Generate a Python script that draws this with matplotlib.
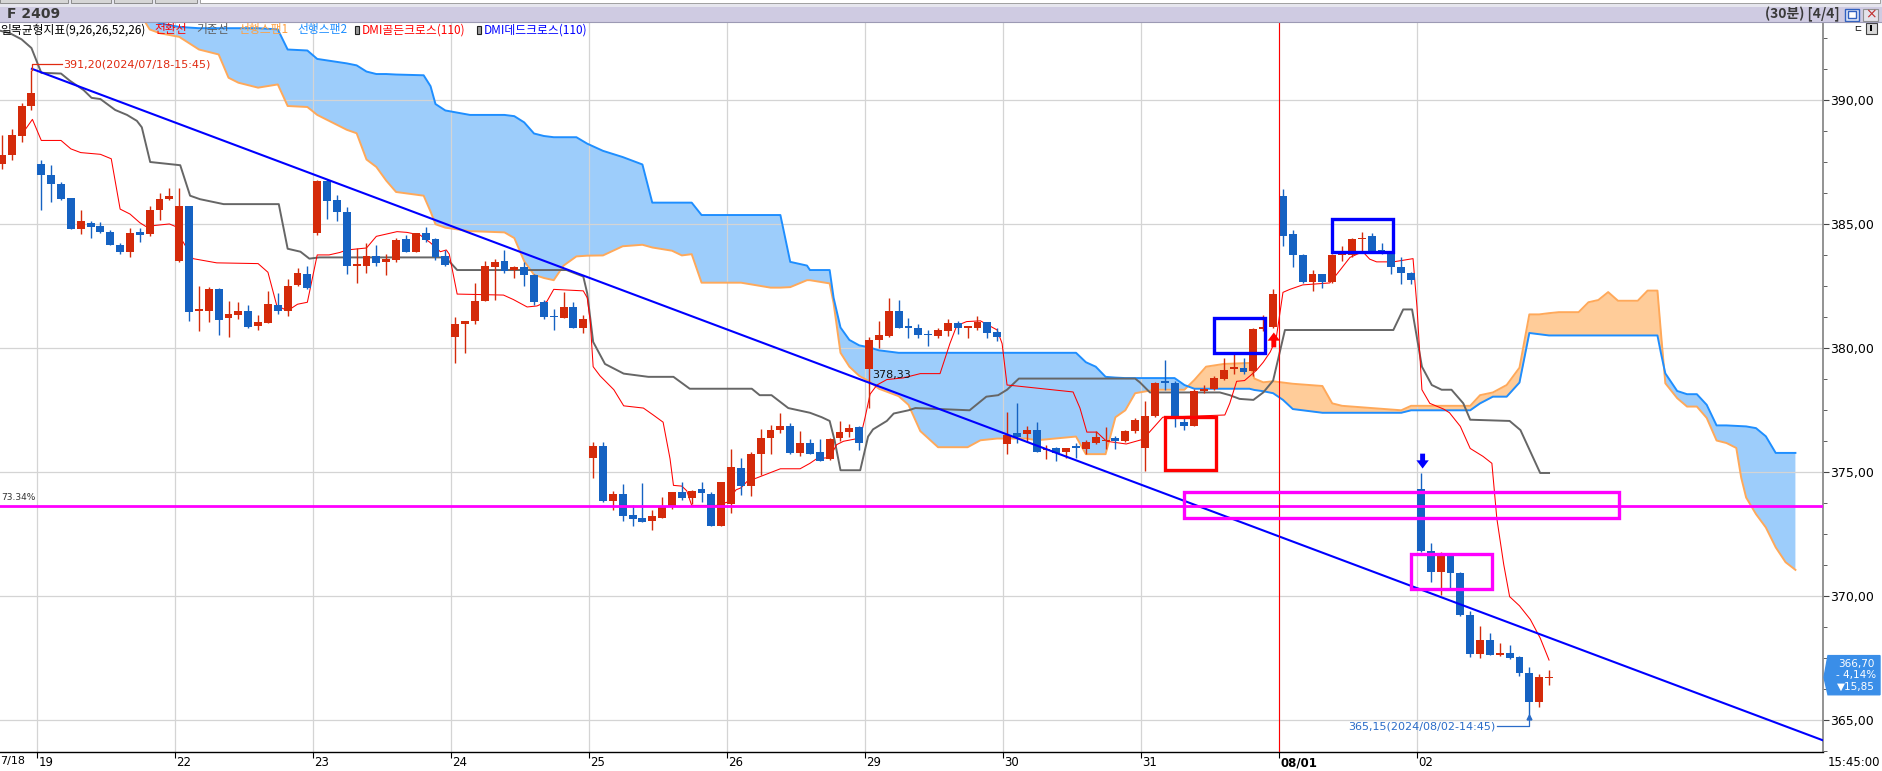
import numpy as np
import matplotlib.pyplot as plt
import matplotlib.patches as mpatches
import matplotlib.transforms as mtrans

W, H = 1882, 771

# ---- 30분봉 데이터 (7/18 마지막 4개 ~ 8/02) ----
opens = [387.4, 387.8, 388.55, 389.78,
         387.4, 386.98, 386.6, 386.03, 384.8, 385.05, 384.9, 384.66, 384.17, 383.88, 384.66, 384.58, 385.55, 385.99,
         383.5, 385.73, 381.5, 381.47, 382.36, 381.2, 381.32, 381.5, 380.9, 381.02, 381.73, 381.47, 382.54, 383.0,
         384.62, 386.73, 385.96, 385.5, 383.3, 383.32, 383.7, 383.47, 383.54, 384.38, 383.88, 384.62, 384.38, 383.69,
         380.45, 380.97, 381.1, 381.9, 383.25, 383.5, 383.14, 383.27, 382.95, 381.86, 381.3, 381.2, 381.65, 380.8,
         375.57, 376.05, 373.82, 374.12, 373.25, 373.15, 373.0, 373.15, 373.56, 374.2, 373.95, 374.32, 374.12, 372.82,
         373.7, 375.16, 374.42, 375.71, 376.35, 376.68, 376.86, 375.75, 376.16, 375.79, 375.53, 376.36, 376.6, 376.79,
         379.15, 380.31, 380.46, 381.47, 380.85, 380.82, 380.54, 380.46, 380.69, 381.0, 380.82, 380.8, 381.06, 380.65,
         376.12, 376.57, 376.53, 376.68, 375.86, 375.94, 375.79, 375.99, 375.9, 376.16, 376.25, 376.36, 376.25, 376.64,
         375.94, 377.24, 378.65, 378.57, 377.01, 376.86, 378.27, 378.35, 378.76, 379.13, 379.2, 379.05, 380.76, 380.83,
         386.14, 384.58, 383.73, 382.65, 382.99, 382.65, 383.73, 383.73, 384.4, 384.5, 383.92, 383.88, 383.25, 383.02,
         374.3, 371.8, 370.95, 371.65, 370.9, 369.23, 367.63, 368.22, 367.6, 367.7, 367.52, 366.87, 365.7, 366.68]
highs = [388.6, 388.85, 389.9, 391.2,
         387.6, 387.37, 386.7, 386.03, 385.55, 385.1, 385.08, 384.77, 384.25, 384.84, 384.84, 385.73, 386.25, 386.44,
         386.44, 385.73, 382.5, 382.44, 382.4, 381.9, 381.87, 381.74, 381.34, 382.3, 382.2, 382.78, 383.22, 383.32,
         386.77, 386.81, 386.18, 385.68, 384.03, 384.22, 384.17, 383.77, 384.43, 384.55, 384.62, 384.88, 384.43, 383.95,
         381.24, 381.09, 382.6, 383.5, 383.6, 383.95, 383.32, 383.47, 382.99, 381.92, 381.57, 382.25, 381.87, 381.32,
         376.2, 376.2, 374.23, 374.5, 373.64, 374.55, 373.45, 373.97, 374.2, 374.6, 374.27, 374.6, 374.2, 374.6,
         375.9, 375.57, 375.8, 376.73, 376.9, 377.38, 376.97, 376.64, 376.34, 376.34, 376.38, 377.05, 376.94, 376.86,
         380.44, 381.1, 382.0, 381.93, 381.19, 380.97, 380.72, 380.82, 381.15, 381.1, 380.9, 381.28, 381.06, 380.82,
         377.42, 377.79, 376.86, 377.01, 376.07, 376.01, 375.97, 376.16, 376.27, 376.64, 376.79, 376.45, 376.68, 377.16,
         377.85, 378.61, 379.52, 378.65, 377.2, 378.35, 378.5, 378.87, 379.61, 379.76, 379.61, 380.82, 381.32, 382.36,
         386.4, 384.77, 383.77, 383.14, 382.99, 383.77, 384.1, 384.43, 384.66, 384.62, 384.25, 383.92, 383.65, 383.06,
         374.95, 372.13, 371.76, 371.72, 370.95, 369.38, 368.78, 368.48, 368.07, 368.0, 367.56, 367.13, 366.82, 367.0]
lows = [387.2, 387.6, 388.3, 389.6,
        385.55, 385.9, 385.97, 384.8, 384.58, 384.43, 384.62, 384.16, 383.8, 383.65, 384.29, 384.53, 385.14, 385.97,
        383.47, 381.1, 380.7, 381.06, 380.5, 380.43, 381.17, 380.79, 380.72, 381.02, 381.36, 381.3, 382.49, 382.36,
        384.55, 385.2, 385.13, 383.0, 382.6, 383.04, 383.32, 382.92, 383.47, 383.88, 383.88, 384.29, 383.54, 383.32,
        379.39, 379.8, 380.97, 381.9, 381.94, 383.02, 382.8, 382.51, 381.73, 381.17, 380.72, 381.2, 380.8, 380.6,
        374.75, 373.77, 373.45, 373.0, 372.8, 372.97, 372.63, 373.15, 373.5, 373.86, 373.68, 373.77, 372.82, 372.82,
        373.34, 374.05, 374.04, 374.88, 375.71, 376.57, 375.71, 375.62, 375.71, 375.43, 375.49, 376.23, 376.4, 375.86,
        377.57, 380.0, 380.44, 380.82, 380.39, 380.39, 380.07, 380.39, 380.46, 380.54, 380.39, 380.72, 380.39, 380.26,
        375.7, 376.16, 376.2, 375.79, 375.53, 375.45, 375.57, 375.57, 375.71, 376.12, 375.9, 375.9, 376.2, 376.57,
        375.01, 377.2, 378.31, 376.79, 376.68, 376.83, 378.16, 378.31, 378.72, 378.96, 378.96, 378.87, 380.69, 380.8,
        384.1, 383.25, 382.62, 382.28, 382.43, 382.62, 383.5, 383.65, 383.84, 383.84, 383.8, 382.99, 382.58, 382.58,
        371.77, 370.55, 370.04, 370.3, 369.16, 367.52, 367.48, 367.6, 367.56, 367.45, 366.76, 365.15, 365.52, 366.4]
closes = [387.8, 388.57, 389.78, 390.28,
          386.98, 386.6, 386.0, 384.8, 385.1, 384.88, 384.66, 384.16, 383.88, 384.62, 384.55, 385.55, 386.0, 386.14,
          385.73, 381.43, 381.52, 382.36, 381.13, 381.35, 381.47, 380.83, 381.05, 381.75, 381.47, 382.49, 383.02, 382.4,
          386.73, 385.92, 385.5, 383.32, 383.4, 383.7, 383.42, 383.58, 384.34, 383.88, 384.62, 384.36, 383.65, 383.36,
          380.97, 381.09, 381.9, 383.32, 383.47, 383.1, 383.27, 382.92, 381.84, 381.25, 381.25, 381.65, 380.8, 381.15,
          376.05, 373.82, 374.12, 373.2, 373.1, 372.97, 373.2, 373.56, 374.2, 373.95, 374.23, 374.14, 372.82, 374.57,
          375.19, 374.42, 375.71, 376.35, 376.68, 376.86, 375.75, 376.16, 375.71, 375.45, 376.33, 376.6, 376.75, 376.16,
          380.31, 380.5, 381.47, 380.82, 380.82, 380.5, 380.5, 380.72, 381.0, 380.8, 380.87, 381.06, 380.6, 380.45,
          376.5, 376.42, 376.68, 375.81, 375.9, 375.75, 375.97, 375.97, 376.2, 376.4, 376.27, 376.23, 376.64, 377.1,
          377.24, 378.57, 378.57, 377.2, 376.86, 378.27, 378.35, 378.79, 379.11, 379.24, 379.02, 380.78, 380.83, 382.17,
          384.53, 383.73, 382.65, 382.99, 382.65, 383.73, 383.92, 384.4, 384.44, 383.88, 383.88, 383.25, 383.02, 382.73,
          371.8, 370.95, 371.65, 370.9, 369.23, 367.63, 368.22, 367.6, 367.7, 367.48, 366.89, 365.7, 366.7, 366.70]

day_labels = ['19', '22', '23', '24', '25', '26', '29', '30', '31', '08/01', '02']
day_first_bar = [4, 18, 32, 46, 60, 74, 88, 102, 116, 130, 144]

# ---- 일목균형표 (그림에서 읽은 꼭짓점) ----
tenkan_x = [2.0, 3.1, 4.0, 6.0, 7.0, 8.0, 10.0, 11.1, 12.0, 13.0, 14.0, 14.6, 17.0, 17.6, 18.2, 19.4, 21.8, 26.0,
            27.0, 27.9, 29.0, 30.0, 31.0, 32.0, 33.2, 34.3, 35.0, 37.0, 38.0, 40.1, 41.1, 42.45, 43.46, 44.5, 45.1,
            45.4, 46.2, 50.9, 51.9, 53.3, 54.3, 55.3, 56.0, 59.0, 59.4, 59.7, 60.0, 60.7, 62.1, 63.1, 65.1, 66.1,
            67.1, 67.8, 68.15, 69.0, 69.5, 70.0, 72.5, 73.6, 74.5, 75.0, 75.6, 76.6, 78.3, 79.0, 81.0, 82.0, 82.7,
            84.0, 84.7, 85.4, 87.1, 87.6, 88.1, 88.8, 89.8, 91.5, 93.2, 95.2, 96.2, 96.9, 97.9, 99.3, 101.0, 101.5,
            102.0, 103.0, 108.7, 109.4, 110.1, 111.1, 112.1, 114.1, 115.8, 117.8, 124.1, 124.6, 125.3, 126.1, 127.3,
            128.0, 128.7, 129.3, 130.0, 130.7, 132.0, 134.75, 135.8, 136.8, 138.1, 138.8, 139.5, 141.2, 143.2, 143.6,
            144.1, 144.9, 146.3, 146.9, 148.0, 149.0, 150.3, 151.2, 151.7, 152.4, 153.0, 154.0, 155.1, 156.1, 157.0]
tenkan_y = [388.6, 389.22, 388.37, 388.37, 388.03, 387.88, 387.81, 387.63, 385.6, 385.4, 385.05, 384.9, 385.0, 384.9,
            384.4, 383.6, 383.43, 383.4, 383.05, 381.7, 381.5, 381.76, 381.84, 383.75, 383.75, 383.85, 383.95, 384.03,
            384.5, 384.69, 384.66, 384.55, 384.25, 383.88, 383.95, 383.78, 382.17, 382.13, 381.95, 381.65, 381.69,
            381.87, 382.36, 382.3, 382.02, 381.1, 379.24, 378.87, 378.31, 377.66, 377.57, 377.29, 377.0, 375.53,
            374.45, 374.42, 374.23, 373.64, 373.64, 373.77, 374.27, 374.35, 374.6, 374.75, 375.01, 375.12, 375.12,
            375.34, 375.53, 375.57, 376.09, 376.23, 376.36, 377.2, 378.13, 378.5, 378.72, 378.79, 378.96, 378.96,
            380.17, 380.9, 381.06, 381.09, 380.72, 380.17, 378.5, 378.46, 378.22, 377.57, 376.6, 376.6, 376.23,
            376.12, 376.31, 377.2, 377.29, 377.76, 378.65, 378.68, 379.09, 379.42, 379.83, 380.35, 382.24, 382.36,
            382.54, 382.62, 383.14, 383.65, 383.88, 383.58, 383.47, 383.47, 383.6, 381.65, 378.31, 377.76, 377.53,
            377.38, 376.83, 375.94, 375.62, 375.34, 373.12, 371.26, 369.96, 369.59, 369.04, 368.29, 367.4]

kijun_x = [-0.2, 0.8, 2.0, 3.0, 3.6, 4.0, 6.0, 6.9, 8.3, 9.1, 10.0, 11.5, 12.7, 13.7, 14.2, 15.05, 18.1, 19.1, 20.1,
           22.5, 28.1, 29.0, 30.3, 31.2, 32.2, 45.0, 45.7, 46.2, 57.3, 59.0, 59.4, 60.0, 61.2, 63.1, 65.6, 68.15,
           69.8, 76.1, 76.9, 78.1, 79.8, 82.0, 83.2, 84.0, 84.5, 85.1, 87.1, 87.9, 88.4, 89.8, 90.5, 92.0, 92.7,
           98.2, 99.9, 101.1, 102.0, 103.2, 115.0, 115.5, 116.5, 123.6, 124.6, 125.6, 127.0, 128.0, 129.0, 130.2,
           141.2, 142.2, 143.1, 144.1, 145.1, 146.1, 147.1, 148.3, 149.0, 153.0, 154.1, 156.1, 157.0]
kijun_y = [392.8, 392.7, 392.45, 392.1, 391.5, 391.1, 391.07, 390.78, 390.4, 390.09, 390.04, 389.6, 389.4, 389.16,
           388.9, 387.5, 387.37, 386.14, 386.0, 385.8, 385.8, 384.0, 383.88, 383.6, 383.65, 383.65, 383.36, 383.14,
           383.14, 382.88, 382.2, 380.24, 379.35, 378.96, 378.83, 378.83, 378.35, 378.35, 378.09, 378.09, 377.57,
           377.38, 377.2, 377.05, 376.27, 375.06, 375.06, 376.42, 376.71, 377.05, 377.35, 377.48, 377.57, 377.48,
           378.03, 378.09, 378.31, 378.76, 378.76, 378.6, 378.2, 378.2, 378.09, 377.94, 377.9, 378.2, 378.68,
           380.72, 380.72, 381.55, 381.55, 379.24, 378.5, 378.31, 378.31, 377.76, 377.1, 377.05, 376.68, 374.95,
           374.95]

span_x = [0, 10, 14, 15, 16, 18, 20, 22, 23, 24, 26, 28, 29, 31, 32, 35, 36, 37, 38, 39, 40, 42.8, 43.5, 44, 45,
          47.5, 51, 52, 53, 54, 55, 56, 57, 58.3, 59.4, 61, 63, 65, 66, 68, 69, 70, 71, 75, 78, 79, 80, 81.7, 82,
          84, 84.4, 85.1, 86, 87, 88, 89, 91, 92, 93.2, 95, 98, 99.3, 101, 104, 105, 107.4, 109, 110, 111, 112,
          113, 114, 115, 117, 119, 120, 121, 122.2, 124, 126.6, 127.1, 128, 129, 130, 131, 134, 135, 136, 142,
          143, 149, 150, 151.3, 152.7, 154, 155, 156, 157, 158, 160, 161, 162, 163, 164, 166, 167, 168, 168.4,
          168.8, 170, 171, 172, 173, 174, 175, 176, 176.5, 177, 178, 179, 180, 181, 182]
span_a = [394.6, 394.0, 393.5, 392.85, 392.7, 392.55, 392.04, 391.84, 390.9, 390.7, 390.5, 390.63, 389.76, 389.72,
          389.4, 388.8, 388.66, 387.6, 387.3, 386.75, 386.29, 386.14, 385.5, 384.99, 384.85, 384.71, 384.66,
          384.43, 383.5, 382.95, 382.82, 382.73, 383.32, 383.69, 383.72, 383.73, 384.1, 384.16, 384.05, 383.92,
          383.73, 383.78, 382.63, 382.63, 382.43, 382.43, 382.45, 382.73, 382.73, 382.6, 381.8, 379.8, 379.24,
          378.87, 378.65, 378.35, 378.05, 377.7, 376.64, 375.99, 375.99, 376.27, 376.34, 376.34, 376.27, 376.36,
          376.42, 375.71, 375.71, 375.71, 377.2, 377.48, 378.17, 378.31, 378.31, 378.31, 378.7, 379.24, 379.35,
          379.39, 378.76, 378.61, 378.65, 378.6, 378.55, 378.46, 377.76, 377.66, 377.48, 377.66, 377.66, 378.09,
          378.2, 378.5, 379.2, 381.35, 381.35, 381.4, 381.44, 381.44, 381.84, 381.93, 382.25, 381.9, 381.9,
          382.31, 382.31, 380.4, 378.57, 377.97, 377.63, 377.63, 377.17, 376.26, 376.16, 375.96, 374.76, 373.96,
          373.29, 372.75, 371.95, 371.35, 371.04]
span_b = [395.6, 395.0, 394.0, 393.3, 393.1, 392.95, 392.9, 392.9, 392.9, 392.9, 392.9, 392.85, 392.04, 392.0,
          391.66, 391.48, 391.4, 391.15, 391.05, 391.05, 391.03, 391.0, 390.56, 389.84, 389.58, 389.4, 389.4,
          389.35, 389.1, 388.65, 388.55, 388.5, 388.5, 388.5, 388.24, 387.95, 387.7, 387.4, 385.86, 385.86,
          385.86, 385.86, 385.36, 385.36, 385.36, 385.36, 383.47, 383.32, 383.14, 383.14, 382.02, 380.82, 380.32,
          380.1, 380.02, 379.9, 379.8, 379.8, 379.8, 379.8, 379.8, 379.8, 379.8, 379.8, 379.8, 379.8, 379.8,
          379.42, 379.24, 378.83, 378.8, 378.78, 378.78, 378.78, 378.78, 378.5, 378.35, 378.35, 378.35, 378.35,
          378.3, 378.25, 378.17, 377.9, 377.53, 377.38, 377.38, 377.38, 377.38, 377.48, 377.48, 377.76, 378.03,
          378.03, 378.6, 380.6, 380.55, 380.5, 380.5, 380.5, 380.5, 380.5, 380.5, 380.5, 380.5, 380.5, 380.5,
          379.7, 378.97, 378.26, 378.13, 378.13, 377.7, 376.87, 376.87, 376.85, 376.84, 376.83, 376.76, 376.43,
          375.76, 375.76, 375.76]

# ---- 작도 (추세선, 수평선, 박스) ----
trend_x = [3.05, 184.8]
trend_y = [391.26, 364.16]
magenta_level = 373.6
# (x0, x1, y0, y1, color)
boxes = [(118.0, 123.2, 375.07, 377.2, '#ff0000'),
         (123.0, 128.15, 379.8, 381.19, '#0000ff'),
         (134.96, 141.12, 383.88, 385.21, '#0000ff'),
         (119.93, 164.1, 373.15, 374.2, '#ff00ff'),
         (143.0, 151.2, 370.25, 371.68, '#ff00ff')]
golden_cross = (129.07, 380.02)
dead_cross = (144.17, 375.73)
hi_idx, hi_val = 3, 391.20
lo_idx, lo_val = 155, 365.15
last_close, chg_pct, chg = 366.70, 4.14, 15.85

UP, DN = '#d42a0a', '#1562c2'
KR = ['Noto Sans CJK KR', 'DejaVu Sans']
NARROW = ['Liberation Sans Narrow', 'DejaVu Sans']

fig = plt.figure(figsize=(W / 100, H / 100), dpi=100, facecolor='white')
ax = fig.add_axes([0, (H - 752) / H, 1823 / W, (752 - 22) / H])
ax.set_xlim(-0.19, 184.8)
ax.set_ylim(363.69, 393.15)

# 격자
for d in day_first_bar:
    ax.axvline(d - 0.4, color='#d4d4d4', lw=0.9, zorder=1.5)
for lv in range(365, 395, 5):
    ax.axhline(lv, color='#d4d4d4', lw=0.9, zorder=1.5)

# 구름
sx = np.array(span_x); sa = np.array(span_a); sb = np.array(span_b)
ax.fill_between(sx, sa, sb, where=sb >= sa, interpolate=True, color='#9dcdfb', lw=0, zorder=1)
ax.fill_between(sx, sa, sb, where=sa > sb, interpolate=True, color='#ffcc99', lw=0, zorder=1)
ax.plot(sx, sa, color='#ffa95a', lw=1.4, zorder=2)
ax.plot(sx, sb, color='#1e8eff', lw=1.4, zorder=2.1)
ax.plot(kijun_x, kijun_y, color='#666666', lw=1.4, zorder=3)
ax.plot(tenkan_x, tenkan_y, color='#ff0000', lw=0.75, zorder=3.2)

# 캔들
o = np.array(opens); c = np.array(closes); hh = np.array(highs); ll = np.array(lows)
x = np.arange(len(o))
cols = np.where(c >= o, UP, DN)
ax.vlines(x, ll, hh, colors=cols, lw=1.0, zorder=4)
ax.bar(x, np.maximum(np.abs(c - o), 0.05), bottom=np.minimum(o, c), width=0.8, color=cols, lw=0, zorder=5)

# 추세선, 수평선, 박스
ax.plot(trend_x, trend_y, color='#0000ff', lw=1.5, zorder=6)
ax.axhline(magenta_level, color='#ff00ff', lw=2.0, zorder=6)
ax.axvline(day_first_bar[9] - 0.4, color='#ff0000', lw=0.8, zorder=6)
for x0, x1, y0, y1, col in boxes:
    ax.add_patch(mpatches.Rectangle((x0, y0), x1 - x0, y1 - y0, fill=False, ec=col, lw=2.4, zorder=7))

ax.add_patch(mpatches.FancyArrow(golden_cross[0], golden_cross[1], 0, 0.6, width=0.5, head_width=1.25,
                                 head_length=0.33, length_includes_head=True, color='#ff0000', lw=0, zorder=8))
ax.add_patch(mpatches.FancyArrow(dead_cross[0], dead_cross[1], 0, -0.6, width=0.5, head_width=1.25,
                                 head_length=0.33, length_includes_head=True, color='#0000ff', lw=0, zorder=8))

# 최고/최저 표시
ax.plot([hi_idx + 0.05, hi_idx + 0.05, hi_idx + 3.1], [hi_val, hi_val + 0.25, hi_val + 0.25],
        color='#e02a10', lw=0.9, zorder=8)
ax.text(hi_idx + 3.2, hi_val + 0.25, '391,20(2024/07/18-15:45)', color='#e02a10', fontsize=8,
        va='center', ha='left', zorder=8)
ax.plot([lo_idx - 3.3, lo_idx, lo_idx], [lo_val - 0.43, lo_val - 0.43, lo_val - 0.05],
        color='#2a6cc8', lw=0.9, zorder=8)
ax.plot([lo_idx], [lo_val - 0.05], marker='^', ms=3.5, color='#2a6cc8', zorder=8)
ax.text(lo_idx - 3.4, lo_val - 0.43, '365,15(2024/08/02-14:45)', color='#2a6cc8', fontsize=8,
        va='center', ha='right', zorder=8)
ax.text(88.3, 378.9, '378,33', color='#111111', fontsize=8, va='center', ha='left', zorder=8)
ax.text(-0.1, 373.98, '73.34%', color='#333333', fontsize=6.5, va='center', ha='left', zorder=8)

# 축
for s in ['top', 'left']:
    ax.spines[s].set_visible(False)
ax.spines['right'].set_color('#8a8a8a')
ax.spines['right'].set_linewidth(1.3)
ax.spines['bottom'].set_color('#000000')
ax.spines['bottom'].set_linewidth(1.0)
ax.yaxis.tick_right()
ax.set_yticks(np.arange(365, 391, 5))
ax.set_yticks(np.arange(363.75, 393.1, 1.25), minor=True)
ax.set_yticklabels([f'{v:.2f}'.replace('.', ',') for v in np.arange(365, 391, 5)],
                   fontsize=9, family=NARROW)
ax.tick_params(axis='y', which='major', length=4, pad=1, color='#444444')
ax.tick_params(axis='y', which='minor', length=3, color='#444444')
ax.set_xticks([d - 0.4 for d in day_first_bar])
ax.tick_params(axis='x', length=4, color='#000000', labelbottom=False)
xt = ax.get_xaxis_transform()
for d, lab in zip(day_first_bar, day_labels):
    ax.text(d - 0.3, -0.006, lab, transform=xt, ha='left', va='top', fontsize=8.5,
            fontweight='bold' if lab == '08/01' else 'normal', clip_on=False)
ax.text(0, -0.006, '7/18', transform=ax.transAxes, ha='left', va='top', fontsize=8, clip_on=False)

# 우측 현재가 박스
bt = mtrans.blended_transform_factory(ax.transAxes, ax.transData)
dx = 1 / 1823
ax.add_patch(mpatches.Polygon([(1 + dx, last_close), (1 + 5 * dx, last_close + 0.88),
                               (1 + 57 * dx, last_close + 0.88), (1 + 57 * dx, last_close - 0.7),
                               (1 + 5 * dx, last_close - 0.7)],
                              closed=True, transform=bt, color='#3a8ee8', clip_on=False, zorder=9))
ax.text(1 + 33 * dx, last_close + 0.09,
        f'{last_close:.2f}\n- {chg_pct:.2f}%\n\u25bc{chg:.2f}'.replace('.', ','),
        transform=bt, color='white', fontsize=7.5, ha='center', va='center', linespacing=1.15,
        clip_on=False, zorder=10)

# ---- 창 테두리, 범례 ----
ov = fig.add_axes([0, 0, 1, 1])
ov.set_xlim(0, W); ov.set_ylim(H, 0); ov.axis('off'); ov.patch.set_alpha(0)
ov.set_zorder(10)
ov.add_patch(mpatches.Rectangle((0, 0), W, 7, color='#e6e6ee', lw=0))
for bx0, bx1 in [(0, 68), (71, 111), (114, 152), (155, 197)]:
    ov.add_patch(mpatches.Rectangle((bx0, -2), bx1 - bx0, 4.5, fc='#d6d6d6', ec='#8c8c8c', lw=0.7))
ov.add_patch(mpatches.Rectangle((200, -2), 1680, 4.5, fc='white', ec='#a0a0a0', lw=0.7))
ov.add_patch(mpatches.Rectangle((0, 7), W, 14.5, color='#cfcbe2', lw=0))
ov.plot([0, W], [21.8, 21.8], color='#9c9ab4', lw=0.8)
ov.text(7, 14.3, 'F 2409', fontsize=10, fontweight='bold', color='#3a3a3a', va='center', ha='left',
        family=['DejaVu Sans'])
ov.text(1840, 14.3, '(30분) [4/4]', fontsize=10, fontweight='bold', color='#3a3a3a', va='center',
        ha='right', family=KR)
ov.add_patch(mpatches.Rectangle((1845, 8.5), 14, 12, fc='#dfe6f6', ec='#3060c0', lw=1.0))
ov.add_patch(mpatches.Rectangle((1848, 11), 8, 6.5, fc='white', ec='#3060c0', lw=1.0))
ov.add_patch(mpatches.Rectangle((1863, 8.5), 15, 12, fc='#e4e2ea', ec='#909090', lw=0.8))
ov.text(1870.5, 14.5, '×', color='#c03030', fontsize=10, ha='center', va='center')
ov.text(1858, 28.5, 'ㄷ', fontsize=7, ha='center', va='center', family=KR)
ov.add_patch(mpatches.Rectangle((1866, 23), 11, 11, fc='#d8d8d8', ec='#404040', lw=0.8))
ov.add_patch(mpatches.Rectangle((1870.5, 25), 2, 6, fc='#000000', lw=0))

legend_items = [(0, '일목균형지표(9,26,26,52,26)', '#000000'),
                (154, '전환선', '#ff0000'),
                (196, '기준선', '#606060'),
                (238, '선행스팬1', '#ffa040'),
                (297, '선행스팬2', '#1e8eff'),
                (362, 'DMI골든크로스(110)', '#ff0000'),
                (484, 'DMI데드크로스(110)', '#0000ff')]
for lx, txt, col in legend_items:
    ov.text(lx, 30, txt, color=col, fontsize=8.5, va='center', ha='left', family=KR)
for ix in (355, 477):
    ov.add_patch(mpatches.Rectangle((ix, 26), 4.5, 8, fc='#9a9a9a', ec='#202020', lw=0.8))

ov.text(1880, 762, '15:45:00', fontsize=8.5, ha='right', va='center')

fig.savefig('out.png', dpi=100, facecolor='white')
